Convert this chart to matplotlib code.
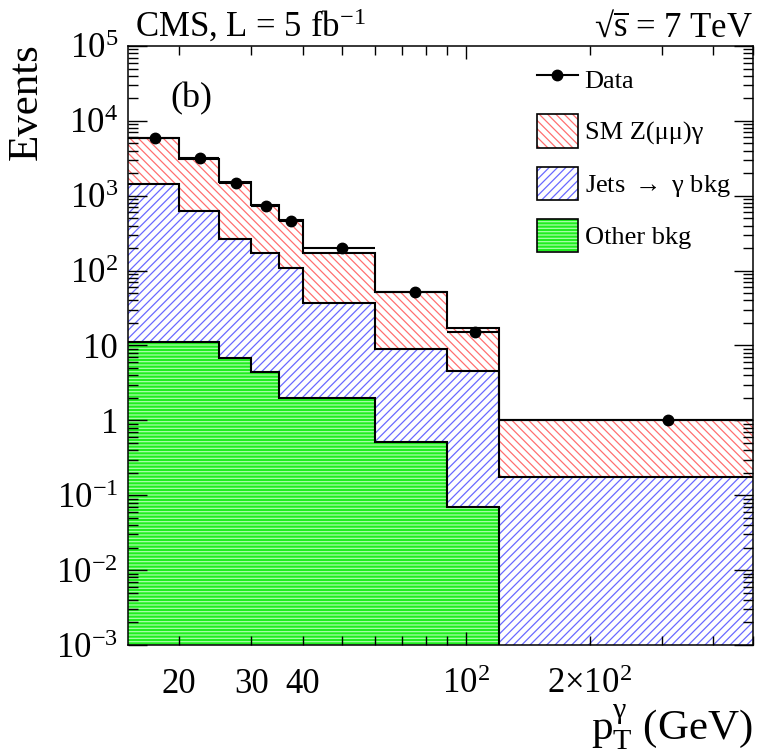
import numpy as np
import matplotlib
matplotlib.use('Agg')
import matplotlib.pyplot as plt
from matplotlib.lines import Line2D
from matplotlib.patches import Patch
from matplotlib.ticker import FixedLocator, FixedFormatter, LogLocator, NullFormatter

# pT bin edges (GeV)
bin_edges = [15, 20, 25, 30, 35, 40, 60, 90, 120, 500]

# stacked contributions per bin
other_bkg = [11.2, 11.2, 6.8, 4.4, 2.0, 2.0, 0.52, 0.07, 0.0]
jets_bkg = [1426, 616, 258, 167, 108, 35.4, 8.5, 4.53, 0.175]
sm_zmumug = [4530, 2470, 1250, 583, 365, 134, 42.5, 12.7, 0.83]

# data
data_x = [17.5, 22.5, 27.5, 32.5, 37.5, 50, 75, 105, 310]
data_y = [5860, 3160, 1480, 731, 461, 199, 52, 15, 1]

y_ticks = [1e-3, 1e-2, 1e-1, 1, 10, 1e2, 1e3, 1e4, 1e5]
y_ticklabels = ['$10^{-3}$', '$10^{-2}$', '$10^{-1}$', '1', '10',
                '$10^{2}$', '$10^{3}$', '$10^{4}$', '$10^{5}$']
x_major = [100]
x_major_labels = ['$10^{2}$']
x_minor = [20, 30, 40, 50, 60, 70, 80, 90, 200, 300, 400, 500]
x_minor_labels = ['20', '30', '40', '', '', '', '', '', '$2{\\times}10^{2}$', '', '', '']

RED = '#ff7070'
BLUE = '#6a6aff'
GREEN = '#1eee1e'
GREEN_LINES = '#a8ffa8'
HATCH_RED = '\\\\\\\\'
HATCH_BLUE = '////'
HATCH_GREEN = '-----'
FLOOR = 1e-4

plt.rcParams['font.family'] = ['Liberation Serif', 'DejaVu Serif']
plt.rcParams['mathtext.fontset'] = 'custom'
plt.rcParams['mathtext.rm'] = 'Liberation Serif'
plt.rcParams['mathtext.it'] = 'Liberation Serif:italic'
plt.rcParams['mathtext.bf'] = 'Liberation Serif:bold'
plt.rcParams['mathtext.default'] = 'regular'
plt.rcParams['hatch.linewidth'] = 0.9

edges = np.array(bin_edges, dtype=float)
other = np.array(other_bkg)
jets_top = other + np.array(jets_bkg)
total = jets_top + np.array(sm_zmumug)
other_plot = np.where(other > 0, other, FLOOR)

fig = plt.figure(figsize=(7.61, 7.56), dpi=100)
ax = fig.add_axes([0.1678, 0.1468, 0.8217, 0.7924])

# filled stack (drawn back to front)
ax.stairs(total, edges, baseline=FLOOR, fill=True, facecolor='white',
          edgecolor=RED, hatch=HATCH_RED, linewidth=0, zorder=1)
ax.stairs(jets_top, edges, baseline=FLOOR, fill=True, facecolor='white',
          edgecolor=BLUE, hatch=HATCH_BLUE, linewidth=0, zorder=1.1)
ax.stairs(other_plot, edges, baseline=FLOOR, fill=True, facecolor=GREEN,
          edgecolor=GREEN_LINES, hatch=HATCH_GREEN, linewidth=0, zorder=1.2)

# black outlines
for vals in (total, jets_top, other_plot):
    ax.stairs(vals, edges, baseline=None, color='black', linewidth=1.5, zorder=2)

# data points with bin-width x errors
dx = np.array(data_x)
xerr = [dx - edges[:-1], edges[1:] - dx]
ax.errorbar(data_x, data_y, xerr=xerr, fmt='o', color='black', ms=7.5,
            elinewidth=1.5, capsize=0, zorder=3)

ax.set_xscale('log')
ax.set_yscale('log')
ax.set_xlim(15, 500)
ax.set_ylim(1e-3, 1e5)

ax.yaxis.set_major_locator(FixedLocator(y_ticks))
ax.yaxis.set_major_formatter(FixedFormatter(y_ticklabels))
ax.yaxis.set_minor_locator(LogLocator(base=10, subs=np.arange(2, 10), numticks=20))
ax.yaxis.set_minor_formatter(NullFormatter())
ax.xaxis.set_major_locator(FixedLocator(x_major))
ax.xaxis.set_major_formatter(FixedFormatter(x_major_labels))
ax.xaxis.set_minor_locator(FixedLocator(x_minor))
ax.xaxis.set_minor_formatter(FixedFormatter(x_minor_labels))

ax.tick_params(axis='both', which='both', direction='in', top=True, right=True,
               width=1.0, color='black', labelsize=25)
ax.tick_params(axis='y', which='major', length=14, pad=7)
ax.tick_params(axis='y', which='minor', length=7)
ax.tick_params(axis='x', which='major', length=9.5, pad=34.5)
ax.tick_params(axis='x', which='minor', length=6.5, pad=34.5)
for t in ax.xaxis.get_major_ticks() + ax.xaxis.get_minor_ticks():
    t.label1.set_verticalalignment('baseline')
for s in ax.spines.values():
    s.set_linewidth(1.1)
    s.set_zorder(4)

ax.set_ylabel('Events', fontsize=31, ha='right', va='center')
ax.yaxis.set_label_coords(-0.1615, 1.005)
ax.set_xlabel('$p_{T}^{\\gamma}$ (GeV)', fontsize=31, ha='right', va='baseline')
ax.xaxis.set_label_coords(1.0, -0.1586)

ax.text(0.0118, 1.0155, 'CMS, L = 5 fb$^{-1}$', transform=ax.transAxes,
        fontsize=25, ha='left', va='baseline')
ax.text(1.0, 1.0155, '√$\\overline{s}$ = 7 TeV', transform=ax.transAxes,
        fontsize=25, ha='right', va='baseline')
ax.text(0.0676, 0.898, '(b)', transform=ax.transAxes, fontsize=26,
        ha='left', va='baseline')

# legend
h_data = Line2D([], [], color='black', marker='o', ms=7.5, lw=1.5)
h_sm = (Patch(facecolor='white', edgecolor=RED, hatch=HATCH_RED, linewidth=0),
        Patch(facecolor='none', edgecolor='black', linewidth=1.2))
h_jets = (Patch(facecolor='white', edgecolor=BLUE, hatch=HATCH_BLUE, linewidth=0),
          Patch(facecolor='none', edgecolor='black', linewidth=1.2))
h_other = (Patch(facecolor=GREEN, edgecolor=GREEN_LINES, hatch=HATCH_GREEN, linewidth=0),
           Patch(facecolor='none', edgecolor='black', linewidth=1.2))
ax.legend([h_data, h_sm, h_jets, h_other],
          ['Data', 'SM Z(μμ)γ', 'Jets $\\rightarrow$ γ bkg', 'Other bkg'],
          loc='upper left', bbox_to_anchor=(0.6546, 0.9725), frameon=False,
          fontsize=19, handlelength=1.55, handleheight=1.55, handletextpad=0.25,
          labelspacing=0.72, borderpad=0, borderaxespad=0)

fig.savefig('out.png', dpi=100)
